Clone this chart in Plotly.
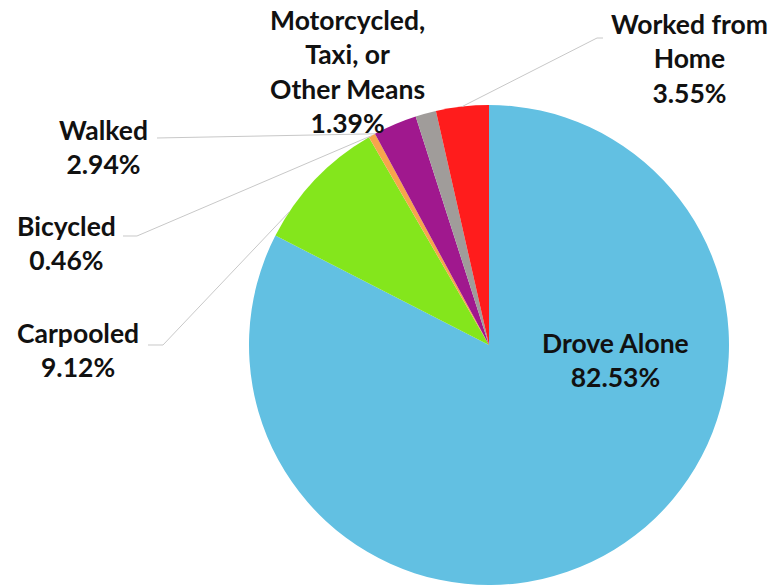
import math
import plotly.graph_objects as go

# Commute mode shares (percent), in clockwise order from 12 o'clock
modes = ["Drove Alone", "Carpooled", "Bicycled", "Walked",
         "Motorcycled,<br>Taxi, or<br>Other Means", "Worked from<br>Home"]
shares = [82.53, 9.12, 0.46, 2.94, 1.39, 3.55]
colors = ["#62C0E2", "#84E61C", "#F7A54C", "#A0188E", "#A09C9A", "#FF1C1C"]

W, H = 773, 587
CX, CY, R = 489, 345, 240  # pie centre and radius in pixels

fig = go.Figure(go.Pie(
    labels=[m.replace("<br>", " ") for m in modes],
    values=shares,
    sort=False,
    direction="clockwise",
    rotation=0,
    marker=dict(colors=colors, line=dict(width=0)),
    textinfo="none",
    hoverinfo="label+percent",
    showlegend=False,
    domain=dict(x=[(CX - R) / W, (CX + R) / W],
                y=[1 - (CY + R) / H, 1 - (CY - R) / H]),
))

# label centre (px), leader-line path from the label (px), anchor fraction within slice
label_pos = [(615, 360), (78, 350), (66, 243), (104, 147), (347, 72), (689, 59)]
leader_from = [None, [(148, 345), (163, 345)], [(123, 236), (137, 236)],
               [(157, 138)], None, [(603, 38), (597, 38)]]
anchor_frac = [0.5, 0.2, 0.5, 0.0, 0.5, 0.5]

def px(x, y):
    return x / W, 1 - y / H

total = sum(shares)
cum = 0.0
for i, (mode, v) in enumerate(zip(modes, shares)):
    start, end = cum, cum + v
    cum = end
    lx, ly = label_pos[i]
    ax, ay = px(lx, ly)
    fig.add_annotation(
        x=ax, y=ay, xref="paper", yref="paper",
        text=f"{mode}<br>{v:.2f}%", showarrow=False,
        xanchor="center", yanchor="middle", align="center",
        font=dict(family="Lato", size=26.5, color="#111111", weight="bold"),
    )
    if leader_from[i]:
        theta = 2 * math.pi * (start + anchor_frac[i] * (end - start)) / total
        ex, ey = CX + R * math.sin(theta), CY - R * math.cos(theta)
        pts = leader_from[i] + [(ex, ey)]
        path = "M " + " L ".join(f"{px(x, y)[0]:.5f},{px(x, y)[1]:.5f}" for x, y in pts)
        fig.add_shape(type="path", path=path, xref="paper", yref="paper",
                      line=dict(color="#C8C8C8", width=1))

fig.update_layout(
    width=W, height=H,
    margin=dict(l=0, r=0, t=0, b=0),
    paper_bgcolor="white", plot_bgcolor="white",
)

fig.write_html("out.html")
